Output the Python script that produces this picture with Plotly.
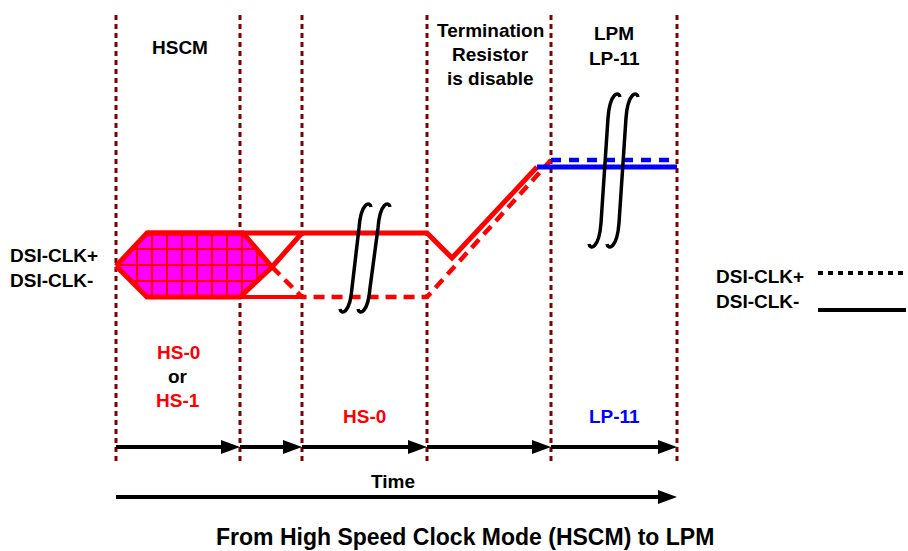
''' plot.py - DSI clock lane timing: High Speed Clock Mode (HSCM) to LPM '''

import numpy as np
import plotly.graph_objects as go

# Time axis boundaries of the phases (same units as the x axis)
T_BOUND = [116, 240, 302, 427, 551, 677]

# HSCM eye (hexagon) vertices
EYE_X = [116, 147, 243, 272, 240, 147, 116]
EYE_Y = [266, 233, 233, 267, 297, 297, 266]
GRID_X = [137, 152, 167, 182, 197, 212, 227, 242, 257]
GRID_Y = [249, 265, 281]

# DSI-CLK- (solid) waveform points
CLKN_RED_X = [147, 427, 452, 537]
CLKN_RED_Y = [233, 233, 258, 167]
CROSS_X = [272, 302]
CROSS_Y = [267, 233]
LOW_X = [240, 302]
LOW_Y = [297, 297]
CLKN_BLUE_X = [537, 677]
CLKN_BLUE_Y = [167, 167]

# DSI-CLK+ (dashed) waveform points
CLKP_RED_X = [272, 302, 427, 551]
CLKP_RED_Y = [267, 297, 297, 160]
CLKP_BLUE_X = [551, 677]
CLKP_BLUE_Y = [160, 160]

# Break marks: (x top, y top, x bottom, y bottom)
BREAKS = [(368, 203, 343, 313), (387, 203, 361, 313),
          (617, 93, 592, 248), (635, 93, 610, 248)]

RED = '#FF0000'
BLUE = '#0000FF'
MAROON = '#800000'
FONT = 'Liberation Sans, Arial, sans-serif'
HEAD_LEN, HEAD_HALF = 19, 7  # arrowhead size

fig = go.Figure()
shapes = []

def add_line(xs, ys, color, width, dash='solid'):
    fig.add_trace(go.Scatter(x=xs, y=ys, mode='lines', hoverinfo='skip',
                             line=dict(color=color, width=width, dash=dash)))

def add_arrow(x0, x1, y):
    ''' Horizontal black arrow from x0 to x1, tip at x1 '''
    add_line([x0, x1 - HEAD_LEN + 2], [y, y], 'black', 4)
    shapes.append(dict(type='path', xref='x', yref='y', fillcolor='black',
                       line=dict(width=0),
                       path=f'M {x1},{y} L {x1 - HEAD_LEN},{y - HEAD_HALF} '
                            f'L {x1 - HEAD_LEN},{y + HEAD_HALF} Z'))

# Vertical dotted phase boundaries
for t in T_BOUND:
    add_line([t, t], [15, 463], MAROON, 3, '5px,4px')

# Eye fill
fig.add_trace(go.Scatter(x=EYE_X, y=EYE_Y, mode='lines', fill='toself',
                         fillcolor='#FF00FF', line=dict(width=0), hoverinfo='skip'))

# Grid inside the eye, clipped to the hexagon
top_x, top_y = [116, 147, 243, 272], [266, 233, 233, 267]
bot_x, bot_y = [116, 147, 240, 272], [266, 297, 297, 267]
for gx in GRID_X:
    y0 = np.interp(gx, top_x, top_y)
    y1 = np.interp(gx, bot_x, bot_y)
    if y1 > y0:
        add_line([gx, gx], [y0, y1], RED, 2)
for gy in GRID_Y:
    xl = 116 + (147 - 116) * abs(gy - 266) / (266 - 233)
    if gy <= 267:
        xr = np.interp(gy, [233, 267], [243, 272])
    else:
        xr = np.interp(gy, [267, 297], [272, 240])
    add_line([xl, xr], [gy, gy], RED, 2)

# Eye outline
add_line(EYE_X, EYE_Y, RED, 5)

# Waveforms
add_line(CLKN_RED_X, CLKN_RED_Y, RED, 5)
add_line(CROSS_X, CROSS_Y, RED, 5)
add_line(LOW_X, LOW_Y, RED, 4)
add_line(CLKP_RED_X, CLKP_RED_Y, RED, 4.5, '11px,7px')
add_line(CLKN_BLUE_X, CLKN_BLUE_Y, BLUE, 5)
add_line(CLKP_BLUE_X, CLKP_BLUE_Y, BLUE, 4.5, '10px,8px')

# Phase arrows and overall time arrow
for a, b in zip(T_BOUND[:-1], T_BOUND[1:]):
    add_arrow(a, b, 447)
add_arrow(T_BOUND[0], T_BOUND[-1], 497)

# Legend lines
add_line([818, 906], [273, 273], 'black', 4, '5px,5px')
add_line([818, 906], [310, 310], 'black', 4)

# Break marks
for xt, yt, xb, yb in BREAKS:
    path = (f'M {xt + 3},{yt + 4} C {xt + 2},{yt - 2} {xt - 7},{yt - 1} {xt - 9},{yt + 25} '
            f'L {xb + 9},{yb - 25} C {xb + 7},{yb + 1} {xb - 2},{yb + 2} {xb - 3},{yb - 4}')
    shapes.append(dict(type='path', path=path, xref='x', yref='y',
                       line=dict(color='black', width=3.5)))

# Texts
def add_text(x, y, text, color='black', size=19, xanchor='center'):
    fig.add_annotation(x=x, y=y, text=text, showarrow=False, xanchor=xanchor,
                       yanchor='middle', xref='x', yref='y',
                       font=dict(family=FONT, size=size, color=color, weight=700))

add_text(180, 47, 'HSCM')
add_text(490, 30, 'Termination')
add_text(490, 54, 'Resistor')
add_text(490, 78, 'is disable')
add_text(614, 33, 'LPM')
add_text(614, 58, 'LP-11')
add_text(8, 255, 'DSI-CLK+', xanchor='left')
add_text(8, 280, 'DSI-CLK-', xanchor='left')
add_text(178, 352, 'HS-0', RED)
add_text(178, 376, 'or')
add_text(178, 400, 'HS-1', RED)
add_text(364, 416, 'HS-0', RED)
add_text(614, 416, 'LP-11', BLUE)
add_text(393, 481, 'Time')
add_text(714, 276, 'DSI-CLK+', xanchor='left')
add_text(714, 301, 'DSI-CLK-', xanchor='left')
add_text(465, 537, 'From High Speed Clock Mode (HSCM) to LPM', size=23)

fig.update_layout(
    width=908, height=551,
    margin=dict(l=0, r=0, t=0, b=0),
    paper_bgcolor='white', plot_bgcolor='white',
    showlegend=False,
    shapes=shapes,
    xaxis=dict(range=[0, 908], visible=False, fixedrange=True),
    yaxis=dict(range=[551, 0], visible=False, fixedrange=True),
)

# Drop the default page margin so the figure sits at the window's top-left
fig.write_html("out.html", config={'displayModeBar': False},
               post_script="document.body.style.margin='0';")
